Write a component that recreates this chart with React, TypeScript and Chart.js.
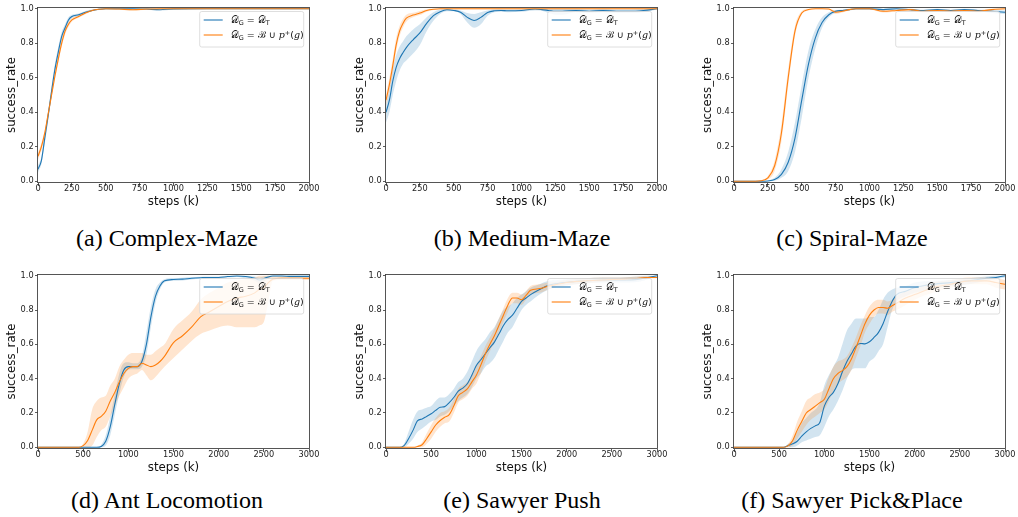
import React, { useEffect, useRef } from "react";
import { Chart, registerables } from "chart.js";
Chart.register(...registerables);

const BLUE = "#1f77b4";
const ORANGE = "#ff7f0e";
const BLUE_FILL = "rgba(31,119,180,0.2)";
const ORANGE_FILL = "rgba(255,127,14,0.2)";

// ---------------- tick labels ----------------
const yTicks = [0, 0.2, 0.4, 0.6, 0.8, 1.0];
const xTicks2000 = [0, 250, 500, 750, 1000, 1250, 1500, 1750, 2000];
const xTicks3000 = [0, 500, 1000, 1500, 2000, 2500, 3000];
const captions = ["(a) Complex-Maze", "(b) Medium-Maze", "(c) Spiral-Maze", "(d) Ant Locomotion", "(e) Sawyer Push", "(f) Sawyer Pick&Place"];
const xLabel = "steps (k)";
const yLabel = "success_rate";

// ---------------- (a) Complex-Maze ----------------
const aSteps = [0, 25, 50, 75, 100, 125, 150, 175, 200, 225, 250, 300, 350, 400, 450, 500, 600, 700, 800, 900, 1000, 1250, 1500, 1750, 2000];
const aBlue = [0.07, 0.12, 0.25, 0.38, 0.52, 0.65, 0.75, 0.84, 0.89, 0.935, 0.955, 0.965, 0.98, 0.99, 0.997, 1.0, 1.0, 1.0, 0.998, 0.994, 0.999, 1.0, 1.0, 1.0, 1.0];
const aBlueLo = [0.05, 0.1, 0.22, 0.35, 0.49, 0.62, 0.72, 0.815, 0.87, 0.92, 0.945, 0.957, 0.973, 0.985, 0.993, 0.997, 0.997, 0.997, 0.994, 0.989, 0.996, 0.998, 0.998, 0.998, 0.998];
const aBlueHi = [0.09, 0.14, 0.28, 0.41, 0.55, 0.68, 0.78, 0.865, 0.91, 0.95, 0.965, 0.973, 0.987, 0.995, 1.0, 1.0, 1.0, 1.0, 1.0, 0.999, 1.0, 1.0, 1.0, 1.0, 1.0];
const aOrange = [0.145, 0.2, 0.28, 0.39, 0.5, 0.61, 0.71, 0.8, 0.87, 0.91, 0.935, 0.955, 0.975, 0.99, 0.997, 1.0, 0.998, 0.994, 0.998, 1.0, 1.0, 1.0, 1.0, 1.0, 1.0];
const aOrangeLo = [0.125, 0.18, 0.26, 0.37, 0.48, 0.59, 0.69, 0.78, 0.85, 0.895, 0.925, 0.947, 0.968, 0.985, 0.994, 0.997, 0.994, 0.989, 0.994, 0.997, 0.997, 0.998, 0.998, 0.998, 0.998];
const aOrangeHi = [0.165, 0.22, 0.3, 0.41, 0.52, 0.63, 0.73, 0.82, 0.89, 0.925, 0.945, 0.963, 0.982, 0.995, 1.0, 1.0, 1.0, 0.999, 1.0, 1.0, 1.0, 1.0, 1.0, 1.0, 1.0];

// ---------------- (b) Medium-Maze ----------------
const bSteps = [0, 25, 50, 75, 100, 125, 150, 200, 250, 300, 350, 400, 450, 500, 550, 600, 650, 700, 750, 800, 850, 900, 1000, 1100, 1150, 1200, 1250, 1300, 1400, 1500, 1600, 1700, 1800, 1900, 2000];
const bBlue = [0.4, 0.47, 0.58, 0.66, 0.71, 0.745, 0.775, 0.82, 0.86, 0.915, 0.96, 0.983, 0.994, 0.99, 0.98, 0.95, 0.932, 0.95, 0.978, 0.988, 0.99, 0.988, 0.99, 0.998, 0.995, 0.99, 0.985, 0.985, 0.99, 0.985, 0.99, 0.985, 0.985, 0.99, 1.0];
const bBlueLo = [0.34, 0.4, 0.5, 0.58, 0.64, 0.68, 0.7, 0.74, 0.79, 0.87, 0.93, 0.97, 0.985, 0.985, 0.97, 0.92, 0.89, 0.91, 0.96, 0.98, 0.983, 0.98, 0.983, 0.99, 0.988, 0.975, 0.965, 0.965, 0.98, 0.975, 0.98, 0.975, 0.975, 0.98, 0.995];
const bBlueHi = [0.45, 0.53, 0.65, 0.73, 0.78, 0.81, 0.84, 0.88, 0.91, 0.95, 0.98, 0.995, 1.0, 0.995, 0.99, 0.975, 0.97, 0.98, 0.99, 0.995, 0.997, 0.995, 0.997, 1.0, 1.0, 1.0, 1.0, 1.0, 1.0, 0.995, 1.0, 0.995, 0.995, 0.998, 1.0];
const bOrange = [0.47, 0.56, 0.67, 0.79, 0.87, 0.915, 0.945, 0.963, 0.975, 0.99, 0.997, 1.0, 1.0, 1.0, 1.0, 1.0, 1.0, 1.0, 1.0, 1.0, 1.0, 1.0, 1.0, 1.0, 1.0, 1.0, 1.0, 1.0, 1.0, 1.0, 1.0, 1.0, 1.0, 1.0, 1.0];
const bOrangeLo = [0.44, 0.52, 0.63, 0.75, 0.84, 0.89, 0.925, 0.95, 0.963, 0.983, 0.993, 0.997, 0.997, 0.997, 0.997, 0.997, 0.997, 0.997, 0.997, 0.997, 0.997, 0.997, 0.997, 0.997, 0.997, 0.997, 0.997, 0.997, 0.997, 0.997, 0.997, 0.997, 0.997, 0.997, 0.997];
const bOrangeHi = [0.5, 0.6, 0.71, 0.83, 0.9, 0.94, 0.965, 0.976, 0.987, 0.997, 1.0, 1.0, 1.0, 1.0, 1.0, 1.0, 1.0, 1.0, 1.0, 1.0, 1.0, 1.0, 1.0, 1.0, 1.0, 1.0, 1.0, 1.0, 1.0, 1.0, 1.0, 1.0, 1.0, 1.0, 1.0];

// ---------------- (c) Spiral-Maze ----------------
const cSteps = [0, 100, 200, 250, 300, 350, 400, 450, 500, 550, 600, 650, 700, 750, 800, 850, 900, 1000, 1100, 1200, 1300, 1400, 1500, 1600, 1700, 1800, 1900, 2000];
const cBlue = [0, 0, 0, 0.002, 0.01, 0.04, 0.11, 0.25, 0.47, 0.68, 0.83, 0.92, 0.965, 0.985, 0.99, 0.995, 1.0, 1.0, 0.995, 1.0, 0.995, 0.99, 0.995, 0.99, 0.995, 0.99, 0.985, 0.98];
const cBlueLo = [0, 0, 0, 0, 0.003, 0.02, 0.06, 0.17, 0.37, 0.6, 0.77, 0.89, 0.95, 0.977, 0.985, 0.99, 0.996, 0.996, 0.99, 0.995, 0.99, 0.985, 0.99, 0.985, 0.99, 0.985, 0.975, 0.97];
const cBlueHi = [0, 0, 0, 0.005, 0.02, 0.07, 0.17, 0.34, 0.56, 0.76, 0.88, 0.95, 0.98, 0.993, 0.996, 1.0, 1.0, 1.0, 1.0, 1.0, 1.0, 0.995, 1.0, 0.995, 1.0, 0.995, 0.993, 0.99];
const cOrange = [0, 0, 0.003, 0.02, 0.09, 0.28, 0.6, 0.87, 0.975, 0.995, 1.0, 1.0, 0.998, 0.98, 0.985, 0.995, 1.0, 1.0, 0.985, 0.99, 0.995, 0.985, 0.99, 0.985, 0.99, 0.985, 0.995, 1.0];
const cOrangeLo = [0, 0, 0, 0.01, 0.06, 0.23, 0.55, 0.84, 0.965, 0.99, 0.997, 0.997, 0.994, 0.97, 0.978, 0.99, 0.996, 0.996, 0.978, 0.984, 0.99, 0.978, 0.984, 0.978, 0.984, 0.978, 0.99, 0.996];
const cOrangeHi = [0, 0, 0.006, 0.03, 0.12, 0.33, 0.65, 0.9, 0.985, 1.0, 1.0, 1.0, 1.0, 0.99, 0.992, 1.0, 1.0, 1.0, 0.992, 0.996, 1.0, 0.992, 0.996, 0.992, 0.996, 0.992, 1.0, 1.0];

// ---------------- (d) Ant Locomotion ----------------
const dSteps = [0, 450, 500, 550, 600, 650, 700, 750, 800, 850, 900, 950, 1000, 1050, 1100, 1150, 1200, 1250, 1300, 1350, 1400, 1500, 1600, 1700, 1800, 1900, 2000, 2100, 2200, 2300, 2400, 2450, 2500, 2550, 2600, 2700, 2800, 2900, 3000];
const dBlue = [0, 0, 0, 0, 0, 0, 0.005, 0.035, 0.12, 0.25, 0.37, 0.45, 0.47, 0.47, 0.47, 0.5, 0.6, 0.76, 0.88, 0.94, 0.97, 0.978, 0.98, 0.985, 0.988, 0.99, 0.99, 0.995, 0.998, 0.995, 0.985, 0.975, 0.983, 0.993, 0.998, 0.998, 0.996, 0.996, 0.996];
const dBlueLo = [0, 0, 0, 0, 0, 0, 0, 0.01, 0.07, 0.19, 0.31, 0.41, 0.45, 0.455, 0.455, 0.47, 0.54, 0.7, 0.84, 0.92, 0.96, 0.97, 0.972, 0.978, 0.982, 0.985, 0.985, 0.99, 0.993, 0.985, 0.97, 0.955, 0.965, 0.985, 0.994, 0.994, 0.99, 0.99, 0.99];
const dBlueHi = [0, 0, 0, 0, 0, 0, 0.015, 0.07, 0.18, 0.31, 0.43, 0.49, 0.495, 0.49, 0.49, 0.53, 0.67, 0.82, 0.92, 0.96, 0.98, 0.986, 0.988, 0.992, 0.994, 0.995, 0.996, 1.0, 1.0, 1.0, 0.995, 0.99, 0.995, 1.0, 1.0, 1.0, 1.0, 1.0, 1.0];
const dOrange = [0, 0, 0.01, 0.04, 0.1, 0.16, 0.18, 0.21, 0.27, 0.32, 0.38, 0.43, 0.46, 0.47, 0.47, 0.49, 0.48, 0.47, 0.48, 0.5, 0.53, 0.61, 0.65, 0.7, 0.76, 0.79, 0.82, 0.85, 0.87, 0.88, 0.9, 0.92, 0.93, 0.96, 0.98, 0.985, 0.985, 0.985, 0.985];
const dOrangeLo = [0, 0, 0, 0, 0.01, 0.06, 0.1, 0.12, 0.18, 0.24, 0.3, 0.35, 0.4, 0.42, 0.43, 0.45, 0.42, 0.39, 0.41, 0.44, 0.47, 0.52, 0.57, 0.62, 0.66, 0.68, 0.7, 0.71, 0.7, 0.7, 0.7, 0.71, 0.73, 0.85, 0.97, 0.975, 0.975, 0.975, 0.975];
const dOrangeHi = [0, 0, 0.02, 0.09, 0.22, 0.27, 0.29, 0.3, 0.36, 0.4, 0.47, 0.51, 0.54, 0.55, 0.55, 0.55, 0.54, 0.54, 0.56, 0.58, 0.6, 0.69, 0.74, 0.79, 0.86, 0.9, 0.93, 0.96, 0.97, 0.98, 0.99, 1.0, 1.0, 1.0, 0.995, 0.995, 0.995, 0.995, 0.995];

// ---------------- (e) Sawyer Push ----------------
const eSteps = [0, 150, 200, 250, 300, 350, 400, 450, 500, 550, 600, 650, 700, 750, 800, 850, 900, 950, 1000, 1050, 1100, 1150, 1200, 1250, 1300, 1350, 1400, 1450, 1500, 1550, 1600, 1700, 1800, 1900, 2000, 2200, 2400, 2600, 2800, 2900, 3000];
const eBlue = [0, 0, 0.01, 0.05, 0.1, 0.155, 0.165, 0.18, 0.195, 0.215, 0.233, 0.237, 0.26, 0.29, 0.327, 0.345, 0.37, 0.42, 0.477, 0.51, 0.545, 0.58, 0.613, 0.66, 0.71, 0.745, 0.77, 0.81, 0.85, 0.87, 0.89, 0.92, 0.945, 0.955, 0.962, 0.97, 0.975, 0.975, 0.98, 0.99, 1.0];
const eBlueLo = [0, 0, 0, 0.02, 0.05, 0.09, 0.11, 0.13, 0.15, 0.16, 0.18, 0.19, 0.21, 0.24, 0.27, 0.29, 0.31, 0.35, 0.4, 0.43, 0.47, 0.49, 0.52, 0.57, 0.62, 0.67, 0.7, 0.75, 0.8, 0.83, 0.85, 0.89, 0.92, 0.935, 0.945, 0.955, 0.96, 0.96, 0.965, 0.98, 0.995];
const eBlueHi = [0, 0, 0.02, 0.09, 0.16, 0.21, 0.22, 0.23, 0.24, 0.27, 0.29, 0.29, 0.31, 0.34, 0.38, 0.4, 0.44, 0.5, 0.56, 0.6, 0.63, 0.67, 0.7, 0.75, 0.8, 0.82, 0.84, 0.87, 0.89, 0.91, 0.93, 0.95, 0.97, 0.975, 0.98, 0.985, 0.99, 0.99, 0.995, 1.0, 1.0];
const eOrange = [0, 0, 0, 0, 0, 0.005, 0.015, 0.05, 0.09, 0.13, 0.156, 0.175, 0.19, 0.24, 0.3, 0.32, 0.34, 0.38, 0.42, 0.48, 0.545, 0.6, 0.65, 0.71, 0.77, 0.83, 0.87, 0.87, 0.86, 0.885, 0.915, 0.925, 0.94, 0.95, 0.96, 0.97, 0.975, 0.98, 0.985, 0.99, 0.99];
const eOrangeLo = [0, 0, 0, 0, 0, 0, 0, 0.02, 0.05, 0.09, 0.12, 0.14, 0.15, 0.2, 0.26, 0.28, 0.3, 0.34, 0.37, 0.43, 0.5, 0.56, 0.61, 0.67, 0.73, 0.79, 0.84, 0.84, 0.83, 0.86, 0.89, 0.9, 0.92, 0.935, 0.945, 0.955, 0.965, 0.97, 0.975, 0.985, 0.985];
const eOrangeHi = [0, 0, 0, 0, 0, 0.01, 0.03, 0.08, 0.13, 0.17, 0.2, 0.21, 0.23, 0.28, 0.34, 0.36, 0.38, 0.42, 0.47, 0.53, 0.59, 0.64, 0.69, 0.75, 0.81, 0.87, 0.9, 0.9, 0.89, 0.91, 0.94, 0.95, 0.96, 0.965, 0.975, 0.985, 0.99, 0.99, 0.995, 0.995, 0.995];

// ---------------- (f) Sawyer Pick&Place ----------------
const fSteps = [0, 550, 600, 650, 700, 750, 800, 850, 900, 950, 1000, 1050, 1100, 1150, 1200, 1250, 1300, 1350, 1400, 1450, 1500, 1550, 1600, 1650, 1700, 1750, 1800, 1900, 2000, 2200, 2400, 2600, 2800, 2900, 3000];
const fBlue = [0, 0, 0.01, 0.02, 0.035, 0.065, 0.09, 0.11, 0.125, 0.145, 0.24, 0.29, 0.32, 0.37, 0.44, 0.5, 0.545, 0.59, 0.605, 0.603, 0.615, 0.64, 0.67, 0.72, 0.79, 0.85, 0.89, 0.91, 0.93, 0.95, 0.96, 0.97, 0.985, 0.99, 1.0];
const fBlueLo = [0, 0, 0, 0, 0.01, 0.03, 0.04, 0.05, 0.06, 0.07, 0.12, 0.18, 0.22, 0.27, 0.33, 0.4, 0.45, 0.46, 0.46, 0.46, 0.5, 0.52, 0.56, 0.6, 0.7, 0.8, 0.85, 0.88, 0.9, 0.92, 0.94, 0.95, 0.97, 0.98, 0.99];
const fBlueHi = [0, 0, 0.02, 0.04, 0.09, 0.14, 0.17, 0.2, 0.22, 0.26, 0.36, 0.42, 0.47, 0.52, 0.6, 0.68, 0.72, 0.75, 0.75, 0.75, 0.76, 0.76, 0.8, 0.86, 0.9, 0.92, 0.93, 0.94, 0.96, 0.97, 0.975, 0.985, 0.995, 1.0, 1.0];
const fOrange = [0, 0, 0.01, 0.04, 0.1, 0.15, 0.2, 0.22, 0.24, 0.26, 0.28, 0.34, 0.4, 0.43, 0.447, 0.47, 0.515, 0.58, 0.65, 0.72, 0.77, 0.8, 0.815, 0.815, 0.81, 0.825, 0.84, 0.87, 0.89, 0.93, 0.95, 0.97, 0.97, 0.96, 0.95];
const fOrangeLo = [0, 0, 0, 0.01, 0.05, 0.09, 0.13, 0.16, 0.18, 0.2, 0.22, 0.27, 0.33, 0.37, 0.39, 0.41, 0.45, 0.52, 0.59, 0.67, 0.72, 0.76, 0.78, 0.78, 0.77, 0.79, 0.8, 0.83, 0.86, 0.9, 0.93, 0.95, 0.95, 0.93, 0.92];
const fOrangeHi = [0, 0, 0.02, 0.07, 0.15, 0.21, 0.27, 0.29, 0.31, 0.32, 0.34, 0.41, 0.47, 0.5, 0.51, 0.53, 0.58, 0.64, 0.71, 0.77, 0.82, 0.85, 0.86, 0.86, 0.85, 0.86, 0.88, 0.91, 0.93, 0.96, 0.975, 0.99, 0.99, 0.985, 0.975];

// ---------------- layout ----------------
const PAD_L = 38, PAD_T = 8, PAD_R = 14, PAD_B = 32;
const PLOT_W = 271;
const colLeft = [38, 386, 734];
const rowTop = [7, 274];
const rowH = [176, 175];
const capCenter = [167, 522, 852];
const capBaseline = [245.7, 508.5];

type PanelData = {
  steps: number[]; blue: number[]; blueLo: number[]; blueHi: number[];
  orange: number[]; orangeLo: number[]; orangeHi: number[]; xMax: number; xTicks: number[];
};

const panels: PanelData[] = [
  { steps: aSteps, blue: aBlue, blueLo: aBlueLo, blueHi: aBlueHi, orange: aOrange, orangeLo: aOrangeLo, orangeHi: aOrangeHi, xMax: 2000, xTicks: xTicks2000 },
  { steps: bSteps, blue: bBlue, blueLo: bBlueLo, blueHi: bBlueHi, orange: bOrange, orangeLo: bOrangeLo, orangeHi: bOrangeHi, xMax: 2000, xTicks: xTicks2000 },
  { steps: cSteps, blue: cBlue, blueLo: cBlueLo, blueHi: cBlueHi, orange: cOrange, orangeLo: cOrangeLo, orangeHi: cOrangeHi, xMax: 2000, xTicks: xTicks2000 },
  { steps: dSteps, blue: dBlue, blueLo: dBlueLo, blueHi: dBlueHi, orange: dOrange, orangeLo: dOrangeLo, orangeHi: dOrangeHi, xMax: 3000, xTicks: xTicks3000 },
  { steps: eSteps, blue: eBlue, blueLo: eBlueLo, blueHi: eBlueHi, orange: eOrange, orangeLo: eOrangeLo, orangeHi: eOrangeHi, xMax: 3000, xTicks: xTicks3000 },
  { steps: fSteps, blue: fBlue, blueLo: fBlueLo, blueHi: fBlueHi, orange: fOrange, orangeLo: fOrangeLo, orangeHi: fOrangeHi, xMax: 3000, xTicks: xTicks3000 },
];

type Seg = { t: string; f: string; dy?: number };
const F_CAL = "9.5px 'DejaVu Serif'";
const F_SUB = "6.5px 'DejaVu Sans'";
const F_TXT = "9.5px 'DejaVu Sans'";
const F_IT = "italic 9.5px 'DejaVu Serif'";
const legendEntries: { color: string; segs: Seg[] }[] = [
  { color: BLUE, segs: [{ t: "𝒟", f: F_CAL }, { t: "G", f: F_SUB, dy: 2 }, { t: " = ", f: F_TXT }, { t: "𝒟", f: F_CAL }, { t: "T", f: F_SUB, dy: 2 }] },
  { color: ORANGE, segs: [{ t: "𝒟", f: F_CAL }, { t: "G", f: F_SUB, dy: 2 }, { t: " = ", f: F_TXT }, { t: "ℬ", f: F_CAL }, { t: " ∪ ", f: F_TXT }, { t: "p", f: F_IT }, { t: "+", f: F_SUB, dy: -3.5 }, { t: "(", f: F_TXT }, { t: "g", f: F_IT }, { t: ")", f: F_TXT }] },
];

const pts = (xs: number[], ys: number[]) => xs.map((x, i) => ({ x, y: ys[i] }));

const decorPlugin = {
  id: "decor",
  afterDraw(chart: any) {
    const ctx: CanvasRenderingContext2D = chart.ctx;
    const a = chart.chartArea;
    ctx.save();
    // frame
    ctx.strokeStyle = "#444";
    ctx.lineWidth = 0.9;
    ctx.strokeRect(Math.round(a.left) - 0.5, Math.round(a.top) + 0.5, Math.round(a.right - a.left) + 1, Math.round(a.bottom - a.top) - 1);
    // axis titles
    ctx.fillStyle = "#111";
    ctx.font = "11.8px 'DejaVu Sans'";
    ctx.textAlign = "center";
    ctx.textBaseline = "middle";
    ctx.fillText(xLabel, (a.left + a.right) / 2, a.bottom + 19.3);
    ctx.save();
    ctx.translate(a.left - 26, (a.top + a.bottom) / 2);
    ctx.rotate(-Math.PI / 2);
    ctx.fillText(yLabel, 0, 0);
    ctx.restore();
    // legend
    const bw = 104, bh = 35.5;
    const bx = a.right - 5.3 - bw, by = a.top + 4.5;
    ctx.beginPath();
    const r = 2;
    ctx.moveTo(bx + r, by);
    ctx.lineTo(bx + bw - r, by);
    ctx.quadraticCurveTo(bx + bw, by, bx + bw, by + r);
    ctx.lineTo(bx + bw, by + bh - r);
    ctx.quadraticCurveTo(bx + bw, by + bh, bx + bw - r, by + bh);
    ctx.lineTo(bx + r, by + bh);
    ctx.quadraticCurveTo(bx, by + bh, bx, by + bh - r);
    ctx.lineTo(bx, by + r);
    ctx.quadraticCurveTo(bx, by, bx + r, by);
    ctx.closePath();
    ctx.fillStyle = "rgba(255,255,255,0.8)";
    ctx.fill();
    ctx.strokeStyle = "#d6d6d6";
    ctx.lineWidth = 0.8;
    ctx.stroke();
    ctx.textAlign = "left";
    ctx.textBaseline = "alphabetic";
    legendEntries.forEach((e, i) => {
      const ly = by + 8.5 + i * 15;
      ctx.strokeStyle = e.color;
      ctx.lineWidth = 1.1;
      ctx.beginPath();
      ctx.moveTo(bx + 4, ly);
      ctx.lineTo(bx + 23, ly);
      ctx.stroke();
      let cx = bx + 31;
      ctx.fillStyle = "#111";
      for (const s of e.segs) {
        ctx.font = s.f;
        ctx.fillText(s.t, cx, ly + 3.4 + (s.dy || 0));
        cx += ctx.measureText(s.t).width;
      }
    });
    ctx.restore();
  },
};

function Panel({ idx }: { idx: number }) {
  const ref = useRef<HTMLCanvasElement>(null);
  const p = panels[idx];
  const row = Math.floor(idx / 3), col = idx % 3;
  const W = PAD_L + PLOT_W + PAD_R;
  const H = PAD_T + rowH[row] + PAD_B;
  useEffect(() => {
    const line = (data: any, color: string, order: number) => ({
      data, borderColor: color, borderWidth: 1.1, pointRadius: 0, fill: false, order,
      cubicInterpolationMode: "monotone" as const,
    });
    const bound = (data: any, order: number, fill: any, bg: string) => ({
      data, borderColor: "rgba(0,0,0,0)", borderWidth: 0, pointRadius: 0, fill, backgroundColor: bg, order,
      cubicInterpolationMode: "monotone" as const,
    });
    const chart = new Chart(ref.current!, {
      type: "line",
      data: {
        datasets: [
          bound(pts(p.steps, p.blueLo), 4, false, BLUE_FILL),
          bound(pts(p.steps, p.blueHi), 4, "-1", BLUE_FILL),
          bound(pts(p.steps, p.orangeLo), 3, false, ORANGE_FILL),
          bound(pts(p.steps, p.orangeHi), 3, "-1", ORANGE_FILL),
          line(pts(p.steps, p.blue), BLUE, 2),
          line(pts(p.steps, p.orange), ORANGE, 1),
        ] as any,
      },
      options: {
        animation: false,
        responsive: false,
        devicePixelRatio: 1,
        events: [],
        layout: { padding: { left: 0, top: PAD_T, right: PAD_R, bottom: 0 } },
        plugins: { legend: { display: false }, tooltip: { enabled: false }, title: { display: false } },
        scales: {
          x: {
            type: "linear", min: 0, max: p.xMax,
            afterBuildTicks: (s: any) => { s.ticks = p.xTicks.map((v) => ({ value: v })); },
            afterFit: (s: any) => { s.height = PAD_B; },
            ticks: { autoSkip: false, maxRotation: 0, padding: -0.8, color: "#222", font: { family: "'DejaVu Sans'", size: 8.2, lineHeight: 1 }, callback: (v: any) => String(v) },
            grid: { drawOnChartArea: false, drawTicks: true, tickLength: 3, color: "#333", lineWidth: 0.8 },
            border: { display: false },
          },
          y: {
            type: "linear", min: -0.01, max: 1.01,
            afterBuildTicks: (s: any) => { s.ticks = yTicks.map((v) => ({ value: v })); },
            afterFit: (s: any) => { s.width = PAD_L; },
            ticks: { autoSkip: false, padding: 1.4, color: "#222", font: { family: "'DejaVu Sans'", size: 8.2, lineHeight: 1 }, callback: (v: any) => Number(v).toFixed(1) },
            grid: { drawOnChartArea: false, drawTicks: true, tickLength: 3, color: "#333", lineWidth: 0.8 },
            border: { display: false },
          },
        },
      } as any,
      plugins: [decorPlugin],
    });
    return () => chart.destroy();
  }, []);
  return (
    <canvas
      ref={ref}
      width={W}
      height={H}
      style={{ position: "absolute", left: colLeft[col] - PAD_L, top: rowTop[row] - PAD_T, width: W, height: H }}
    />
  );
}

export default function App() {
  return (
    <div style={{ position: "absolute", left: 0, top: 0, width: 1018, height: 517, background: "#fff", overflow: "hidden" }}>
      {panels.map((_, i) => <Panel key={i} idx={i} />)}
      {captions.map((c, i) => {
        const row = Math.floor(i / 3), col = i % 3;
        return (
          <div key={c} style={{ position: "absolute", left: capCenter[col] - 170, width: 340, top: capBaseline[row] - 20.1, textAlign: "center", fontFamily: "'Liberation Serif', 'Times New Roman', serif", fontSize: 24, lineHeight: "24px", color: "#000", whiteSpace: "nowrap" }}>
            {c}
          </div>
        );
      })}
    </div>
  );
}
